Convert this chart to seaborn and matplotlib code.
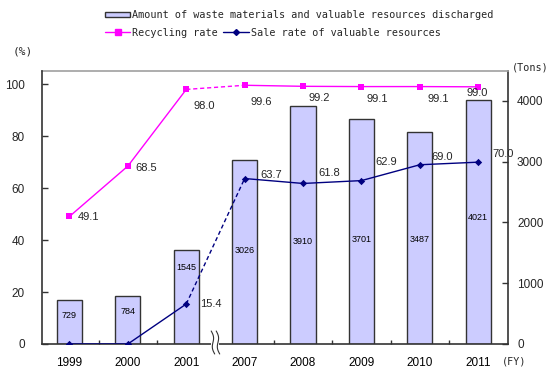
import matplotlib
matplotlib.use('Agg')
import matplotlib.pyplot as plt
import seaborn as sns
import pandas as pd
import numpy as np
from matplotlib.patches import Patch, Rectangle
from matplotlib.lines import Line2D
import matplotlib.transforms as mtransforms

years = ['1999', '2000', '2001', '2007', '2008', '2009', '2010', '2011']
amount = [729, 784, 1545, 3026, 3910, 3701, 3487, 4021]
recycling = [49.1, 68.5, 98.0, 99.6, 99.2, 99.1, 99.1, 99.0]
sale = [0, 0, 15.4, 63.7, 61.8, 62.9, 69.0, 70.0]
sale_labels = [None, None, '15.4', '63.7', '61.8', '62.9', '69.0', '70.0']
left_ticks = [0, 20, 40, 60, 80, 100]
right_ticks = [0, 1000, 2000, 3000, 4000]

PINK = '#ff00ff'
NAVY = '#000080'
BAR = '#ccccff'
EDGE = '#333333'

sns.set_theme(style='white')
plt.rcParams['font.family'] = ['Liberation Sans', 'DejaVu Sans']
MONO = 'DejaVu Sans Mono'

fig = plt.figure(figsize=(5.5, 3.75), dpi=100)
ax = fig.add_axes([0.0758, 0.0827, 0.8478, 0.728])
ax2 = ax.twinx()

df = pd.DataFrame({'year': years, 'pos': np.arange(len(years)), 'amount': amount,
                   'rec': recycling, 'sale': sale})

sns.barplot(data=df, x='year', y='amount', ax=ax, color=BAR, saturation=1,
            width=0.43, edgecolor=EDGE, linewidth=1.0)

# lines: solid / dashed (across the axis break) / solid
segs = [(slice(0, 3), '-'), (slice(2, 4), (0, (3, 2))), (slice(3, 8), '-')]
for sl, ls in segs:
    sub = df.iloc[sl]
    sns.lineplot(data=sub, x='pos', y='rec', ax=ax2, color=PINK, linewidth=1.0,
                 linestyle=ls, legend=False)
    sns.lineplot(data=sub, x='pos', y='sale', ax=ax2, color=NAVY, linewidth=1.0,
                 linestyle=ls, legend=False)
sns.scatterplot(data=df, x='pos', y='rec', ax=ax2, color=PINK, marker='s', s=22,
                linewidth=0, legend=False, zorder=5)
sns.scatterplot(data=df, x='pos', y='sale', ax=ax2, color=NAVY, marker='D', s=14,
                linewidth=0, legend=False, zorder=5)

# limits
ax.set_ylim(0, 4494)
ax2.set_ylim(0, 105.1)
ax.set_xlim(-0.476, 7.51)
ax2.set_xlim(-0.476, 7.51)

# axes styling
ax.yaxis.tick_right()
ax2.yaxis.tick_left()
ax.set_yticks(right_ticks)
ax2.set_yticks(left_ticks)
for a in (ax, ax2):
    a.set_xlabel('')
    a.set_ylabel('')
ax.set_xticks(range(len(years)))
ax.set_xticklabels(years)
ax.set_xticks(np.arange(0.5, 7, 1), minor=True)
ax.tick_params(axis='x', which='major', length=0, labelsize=8.5, pad=9.5, colors='black')
ax.tick_params(axis='x', which='minor', length=3, direction='in', width=1, color=EDGE, bottom=True)
ax.tick_params(axis='y', which='major', length=4, direction='in', labelsize=8.5, pad=6.5,
               width=1, color=EDGE, right=True, left=False, labelright=True, labelleft=False)
ax2.tick_params(axis='y', length=4, direction='in', labelsize=8.5, pad=12, width=1,
                color=EDGE, left=True, right=False, labelleft=True, labelright=False)
ax2.tick_params(axis='x', bottom=False, labelbottom=False)

ax.spines['left'].set_visible(False)
ax.spines['top'].set_color('#a0a0a0')
ax.spines['right'].set_color(EDGE)
ax.spines['bottom'].set_color(EDGE)
for sp in ['top', 'right', 'bottom']:
    ax2.spines[sp].set_visible(False)
ax2.spines['left'].set_color(EDGE)
for sp in ax.spines.values():
    sp.set_linewidth(1.2)
ax2.spines['left'].set_linewidth(1.2)

# bar value labels (vertical placement in tons, as in the original)
bar_label_y = [461, 527, 1251, 1547, 1695, 1712, 1728, 2074]
for i, (v, ly) in enumerate(zip(amount, bar_label_y)):
    ax.text(i, ly, str(v), ha='center', va='center', fontsize=6.5, color='black')

# rate labels (pixel offsets)
rec_off = [(8, -1, 'left'), (8, -2, 'left'), (7, -17, 'left'), (6, -17, 'left'),
           (5, -12, 'left'), (5, -12, 'left'), (8, -12, 'left'), (-1, -6, 'center')]
for i, (v, (dx, dy, ha)) in enumerate(zip(recycling, rec_off)):
    ax2.annotate(f'{v:.1f}', (i, v), xytext=(dx, dy), textcoords='offset pixels',
                 ha=ha, va='center', fontsize=8, zorder=6)
sale_off = [None, None, (14, 0), (16, 4), (15, 10), (14, 19), (12, 8), (14, 8)]
for i, (lab, off) in enumerate(zip(sale_labels, sale_off)):
    if lab is None:
        continue
    ax2.annotate(lab, (i, sale[i]), xytext=off, textcoords='offset pixels',
                 ha='left', va='center', fontsize=8, zorder=6)

# axis break symbol at 2.5
trans = mtransforms.blended_transform_factory(ax.transData, ax.transAxes)
ppx = 1 / 58.36
ppy = 1 / 273.0
ax2.add_patch(Rectangle((2.5 - 4 * ppx, -14 * ppy), 8 * ppx, 26 * ppy, transform=trans,
                        facecolor='white', edgecolor='none', clip_on=False, zorder=10))
t = np.linspace(0, 1, 40)
for off in (-2.5, 2.5):
    xs = 2.5 + (off - 1.4 * np.sin(2 * np.pi * t) - 3.5 * (t - 0.5)) * ppx
    ys = (-10 + 23 * t) * ppy
    ax2.plot(xs, ys, transform=trans, color=EDGE, linewidth=0.8, clip_on=False, zorder=11)

# unit labels
fig.text(23 / 550, 1 - 51 / 375, '(%)', ha='center', va='center', fontsize=8, family=MONO)
fig.text(530 / 550, 1 - 68 / 375, '(Tons)', ha='center', va='center', fontsize=7.3, family=MONO)
fig.text(514 / 550, 1 - 362 / 375, '(FY)', ha='center', va='center', fontsize=7.3, family=MONO)

# legends
prop = {'family': MONO, 'size': 7.3}
fig.legend(handles=[Patch(facecolor=BAR, edgecolor=EDGE, linewidth=1)],
           labels=['Amount of waste materials and valuable resources discharged'],
           loc='upper left', bbox_to_anchor=(105 / 550, 1 - 10 / 375), frameon=False,
           prop=prop, handlelength=2.5, handleheight=0.5, handletextpad=0.2,
           borderpad=0, borderaxespad=0)
fig.legend(handles=[Line2D([], [], color=PINK, marker='s', markersize=4, linewidth=1),
                    Line2D([], [], color=NAVY, marker='D', markersize=3, linewidth=1)],
           labels=['Recycling rate', 'Sale rate of valuable resources'], ncol=2,
           loc='upper left', bbox_to_anchor=(105 / 550, 1 - 28 / 375), frameon=False,
           prop=prop, handlelength=2.5, handletextpad=0.2, columnspacing=0.5,
           borderpad=0, borderaxespad=0)

fig.savefig('out.png', dpi=100)
